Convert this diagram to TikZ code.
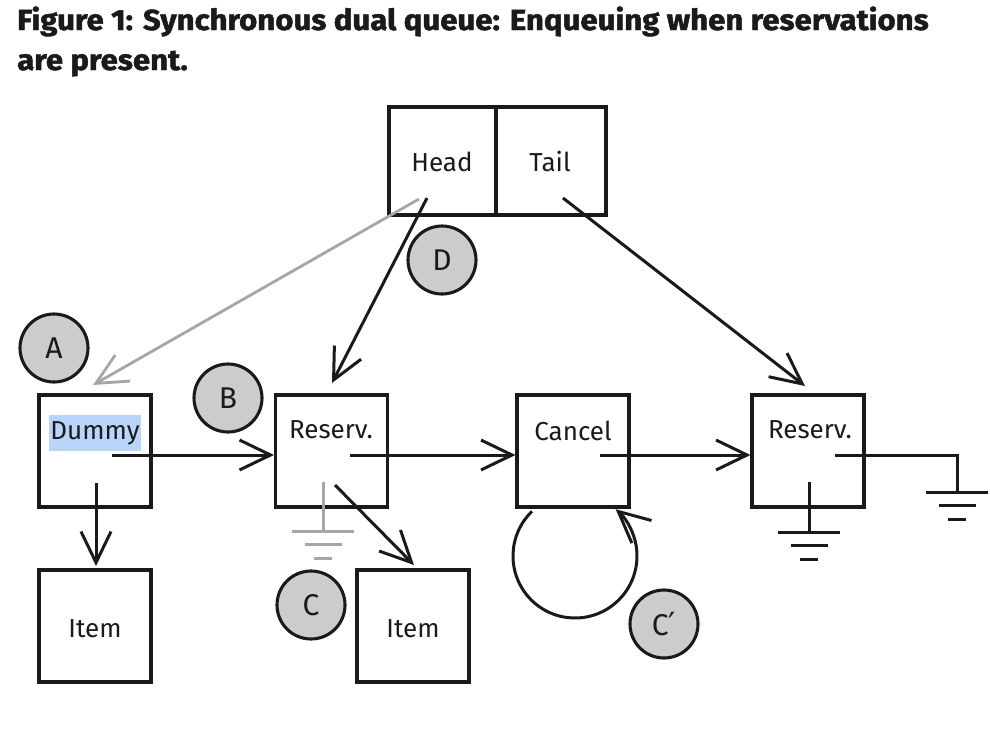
\documentclass[tikz,border=0pt]{standalone}
\usepackage{fontspec}
\setmainfont{Fira Sans}
\newfontfamily\titlefont[FakeBold=1.6]{Fira Sans Bold}
\newfontfamily\symfont{DejaVu Sans}
\usetikzlibrary{arrows.meta,calc}
\definecolor{ink}{HTML}{1A1A1A}
\definecolor{lgray}{HTML}{A6A6A6}
\definecolor{cfill}{HTML}{CCCCCC}
\definecolor{hilite}{HTML}{B8D6FB}
\begin{document}
\begin{tikzpicture}[x=1pt,y=-1pt,
  box/.style={draw=ink,line width=3.1pt,minimum width=112pt,minimum height=112pt,inner sep=0pt},
  txt/.style={font=\fontsize{26}{28}\selectfont,text=ink,inner sep=0pt,anchor=base},
  tag/.style={circle,draw=ink,fill=cfill,line width=3.1pt,minimum size=68pt,inner sep=0pt,font=\fontsize{30}{32}\selectfont,text=ink},
  arr/.style={draw=ink,line width=3pt,-{Straight Barb[length=31pt,width=30pt,line width=3pt]}},
  garr/.style={draw=lgray,line width=2.8pt,-{Straight Barb[length=31pt,width=30pt,line width=2.8pt]}},
  ln/.style={draw=ink,line width=3pt},
  gln/.style={draw=lgray,line width=3pt},
  ttl/.style={anchor=base west,inner sep=0pt,text=ink,font=\fontsize{29}{32}\selectfont\titlefont},
  gnd/.pic={\draw (-31,0)--(31,0) (-18.5,13)--(18.5,13) (-9,27)--(9,27);}
]
\useasboundingbox (0,0) rectangle (990,728);

% title
\node[ttl] (t1) at (17,30) {\scalebox{1.075}[1]{Figure 1: Synchronous dual queue: Enqueuing when reservations}};
\node[ttl] (t2) at (17,70) {\scalebox{1.075}[1]{are present.}};

% head/tail
\node[draw=ink,line width=3.1pt,minimum width=107pt,minimum height=108pt,inner sep=0pt] (head) at (442.5,161) {};
\node[draw=ink,line width=3.1pt,minimum width=110pt,minimum height=108pt,inner sep=0pt] (tail) at (551,161) {};
\node[txt] (headt) at (442,171) {Head};
\node[txt] (tailt) at (550,171) {Tail};

% boxes
\node[box] (dummy) at (95,451) {};
\node[box] (res1) at (331.5,451) {};
\node[box] (cancel) at (573,451) {};
\node[box] (res2) at (808,451) {};
\node[box] (item1) at (95,626) {};
\node[box] (item2) at (413,626) {};

\node[txt,fill=hilite,inner xsep=1pt,inner ysep=6pt] (dummyt) at (95,439) {Dummy};
\node[txt] (res1t) at (331,438) {Reserv.};
\node[txt] (cancelt) at (573,440) {Cancel};
\node[txt] (res2t) at (810,438) {Reserv.};
\node[txt] (item1t) at (95,637) {Item};
\node[txt] (item2t) at (413,637) {Item};

% tags
\node[tag] (A) at (54,348) {A};
\node[tag] (B) at (228,398) {B};
\node[tag] (D) at (442,260) {D};
\node[tag] (C) at (311,605) {C};
\node[tag] (Cp) at (664,624) {C{\symfont\fontsize{32}{32}\selectfont ′}};

% coordinates
\coordinate (hg) at (419,199);
\coordinate (hb) at (427,198);
\coordinate (ts) at (563,198);
\coordinate (dtip) at (93,385);
\coordinate (r1tip) at (332,383);
\coordinate (r2tip) at (805,386);
\coordinate (ds) at (112,455);
\coordinate (r1s) at (350,455);
\coordinate (cs) at (600,455);
\coordinate (r2s) at (835,455);
\coordinate (r2corner) at (957,455);
\coordinate (g1) at (957,492);
\coordinate (r2v) at (809,482);
\coordinate (g2) at (809,532);
\coordinate (r1v) at (323,482);
\coordinate (g3) at (323,531);
\coordinate (r1d) at (335,485);
\coordinate (i2tip) at (414,565);
\coordinate (dv) at (96,483);
\coordinate (i1tip) at (96,566);
\coordinate (loopc) at (575,556);

% connectors
\draw[garr] (hg) -- (dtip);
\draw[arr] (hb) -- (r1tip);
\draw[arr] (ts) -- (r2tip);
\draw[arr] (ds) -- (ds -| res1.west);
\draw[arr] (r1s) -- (r1s -| cancel.west);
\draw[arr] (cs) -- (cs -| res2.west);
\draw[ln] (r2s) -- (r2corner) -- (g1);
\pic[ink,line width=3pt] at (g1) {gnd};
\draw[ln] (r2v) -- (g2);
\pic[ink,line width=3pt] at (g2) {gnd};
\draw[gln] (r1v) -- (g3);
\pic[lgray,line width=3pt] at (g3) {gnd};
\draw[arr] (r1d) -- (i2tip);
\draw[arr] (dv) -- (i1tip);
\draw[arr] ($(loopc)+(226:62)$) arc[start angle=226,end angle=-49,radius=62];
\end{tikzpicture}
\end{document}
